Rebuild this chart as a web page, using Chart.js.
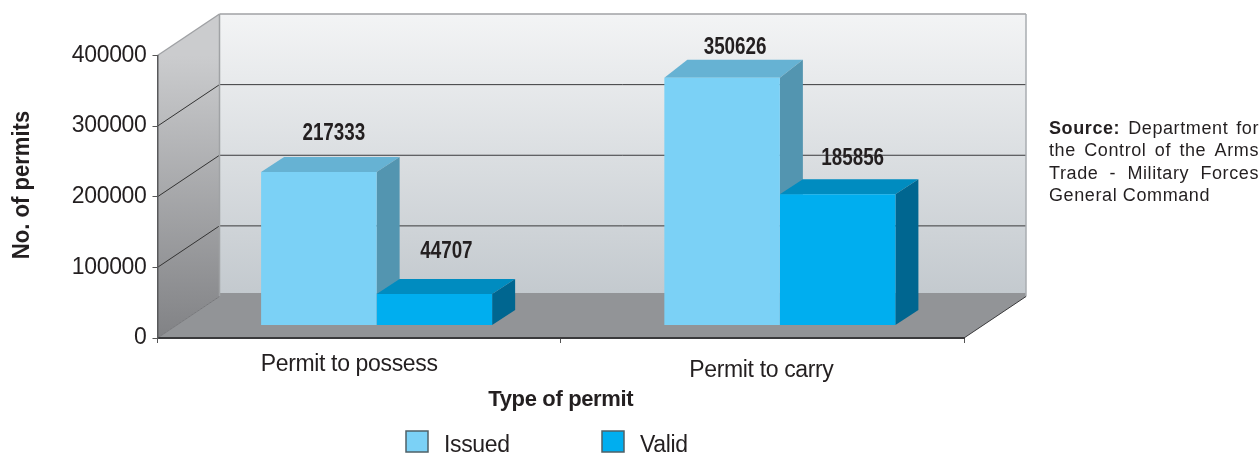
<!DOCTYPE html>
<html>
<head>
<meta charset="utf-8">
<style>
  html, body { margin: 0; background: #fff; }
  canvas { display: block; }
</style>
<script src="https://cdn.jsdelivr.net/npm/chart.js@4/dist/chart.umd.min.js"></script>
</head>
<body>
<canvas id="myChart" width="1260" height="454"></canvas>
<script>
const categories = ['Permit to possess', 'Permit to carry'];
const issued = [217333, 350626];
const valid = [44707, 185856];
const series_names = ['Issued', 'Valid'];
const y_ticks = [0, 100000, 200000, 300000, 400000];
const source_lines = ['Department for', 'the Control of the Arms', 'Trade - Military Forces', 'General Command'];

const SANS = '"Liberation Sans", sans-serif';
const TEXT = '#231f20';

// [front, top, side]
const shades = [
    ['#7bd1f6', '#66b2d3', '#5395b0'],
    ['#00aeef', '#008cc0', '#006690']
];

const wall = { dx: 62, dy: -41.5 };
const bar_offset = { dx: 17.5, dy: -12.5 };
const bar_dx = 23;
// depth is not the same on every bar in the original
const bar_dy = [[-15, -18], [-15, -15]];

// the reference puts these a bit off centre
const value_shift = [[[15, -38], [13, -30]], [[12, -42], [15, -36]]];
const tick_shift = [[-10, 1], [-1, 7]];

function poly(ctx, points, fill) {
    ctx.beginPath();
    points.forEach((p, i) => i ? ctx.lineTo(p[0], p[1]) : ctx.moveTo(p[0], p[1]));
    ctx.closePath();
    ctx.fillStyle = fill;
    ctx.fill();
}

function line(ctx, x1, y1, x2, y2, color, width) {
    ctx.beginPath();
    ctx.moveTo(x1, y1);
    ctx.lineTo(x2, y2);
    ctx.strokeStyle = color;
    ctx.lineWidth = width;
    ctx.stroke();
}

function words_line(ctx, words, x, y, right) {
    let total = 0;
    words.forEach(w => { ctx.font = w.font; total += ctx.measureText(w.text).width; });
    let gap = right ? (right - x - total) / (words.length - 1) : ctx.measureText(' ').width;
    words.forEach(w => {
        ctx.font = w.font;
        ctx.fillText(w.text, x, y);
        x += ctx.measureText(w.text).width + gap;
    });
}

// no narrow font here, so squeeze the bold labels sideways
function narrow_text(ctx, text, x, y, squeeze) {
    ctx.save();
    ctx.translate(x, y);
    ctx.scale(squeeze, 1);
    ctx.fillText(text, 0, 0);
    ctx.restore();
}

const box_plugin = {
    id: 'box3d',
    afterLayout(chart) {
        let scale = chart.scales.x;
        scale.getLabelItems(chart.chartArea).forEach((item, i) => {
            item.options.translation[0] += tick_shift[i][0];
            item.options.translation[1] += tick_shift[i][1];
        });
    },
    beforeDraw(chart) {
        let ctx = chart.ctx;
        let area = chart.chartArea;
        let y = chart.scales.y;
        let y0 = y.getPixelForValue(0);
        let yTop = y.getPixelForValue(400000);
        let bx = area.left + wall.dx;
        let rx = area.right + wall.dx;

        ctx.save();
        let back = ctx.createLinearGradient(0, yTop + wall.dy, 0, y0 + wall.dy);
        back.addColorStop(0, '#f3f4f5');
        back.addColorStop(1, '#c3c9ce');
        poly(ctx, [[bx, yTop + wall.dy], [rx, yTop + wall.dy], [rx, y0 + wall.dy], [bx, y0 + wall.dy]], back);

        let side = ctx.createLinearGradient(0, yTop, 0, y0);
        side.addColorStop(0, '#cbccce');
        side.addColorStop(1, '#818285');
        poly(ctx, [[area.left, yTop], [bx, yTop + wall.dy], [bx, y0 + wall.dy], [area.left, y0]], side);

        poly(ctx, [[area.left, y0], [bx, y0 + wall.dy], [bx, y0 + wall.dy - 3.5], [rx, y0 + wall.dy - 3.5],
            [rx, y0 + wall.dy], [area.right, y0]], '#929497');

        y_ticks.slice(1, -1).forEach(v => {
            let py = y.getPixelForValue(v);
            line(ctx, area.left, py, bx, py + wall.dy, '#333', 1);
            line(ctx, bx, py + wall.dy, rx, py + wall.dy, '#3a3a3c', 1);
        });

        line(ctx, area.left, yTop, bx, yTop + wall.dy, '#a0a2a5', 1.5);
        line(ctx, bx, yTop + wall.dy, rx, yTop + wall.dy, '#a0a2a5', 1.5);
        line(ctx, rx, yTop + wall.dy, rx, y0 + wall.dy, '#a9adb0', 1.5);
        line(ctx, bx, yTop + wall.dy, bx, y0 + wall.dy, '#a0a2a5', 1.5);
        line(ctx, area.left, y0, bx, y0 + wall.dy, '#77787b', 1);
        line(ctx, area.right, y0, rx, y0 + wall.dy, '#3a3a3c', 1);
        ctx.restore();

        // tighter letters for the axis numbers and labels
        ctx.letterSpacing = '-0.35px';
    },
    beforeDatasetsDraw(chart) {
        let ctx = chart.ctx;
        ctx.save();
        ctx.translate(bar_offset.dx, bar_offset.dy);
        chart.data.datasets.forEach((ds, d) => {
            chart.getDatasetMeta(d).data.forEach((bar, i) => {
                let left = bar.x - bar.width / 2;
                let right = bar.x + bar.width / 2;
                let dy = bar_dy[d][i];
                poly(ctx, [[left, bar.y], [left + bar_dx, bar.y + dy], [right + bar_dx, bar.y + dy], [right, bar.y]], shades[d][1]);
                poly(ctx, [[right, bar.y], [right + bar_dx, bar.y + dy], [right + bar_dx, bar.base + dy], [right, bar.base]], shades[d][2]);
            });
        });
    },
    afterDatasetsDraw(chart) {
        let ctx = chart.ctx;
        ctx.restore();

        ctx.save();
        ctx.letterSpacing = '0px';
        ctx.fillStyle = TEXT;
        ctx.textAlign = 'center';
        ctx.textBaseline = 'middle';
        ctx.font = 'bold 23px ' + SANS;
        chart.data.datasets.forEach((ds, d) => {
            chart.getDatasetMeta(d).data.forEach((bar, i) => {
                narrow_text(ctx, String(ds.data[i]),
                    bar.x + bar_offset.dx + value_shift[d][i][0],
                    bar.y + bar_offset.dy + value_shift[d][i][1], 0.82);
            });
        });
        ctx.restore();
    },
    afterDraw(chart) {
        let ctx = chart.ctx;
        ctx.save();
        ctx.fillStyle = TEXT;
        ctx.textBaseline = 'middle';

        // y title sits higher than the middle of the axis
        ctx.save();
        ctx.letterSpacing = '0px';
        ctx.translate(22.5, 185);
        ctx.rotate(-Math.PI / 2);
        ctx.textAlign = 'center';
        ctx.font = 'bold 23px ' + SANS;
        narrow_text(ctx, 'No. of permits', 0, 0, 0.96);
        ctx.restore();

        // legend
        let legend_x = [406, 602];
        series_names.forEach((name, i) => {
            ctx.fillStyle = chart.data.datasets[i].backgroundColor;
            ctx.strokeStyle = '#4f6067';
            ctx.lineWidth = 1.5;
            ctx.fillRect(legend_x[i], 431, 22, 21);
            ctx.strokeRect(legend_x[i], 431, 22, 21);
            ctx.fillStyle = TEXT;
            ctx.letterSpacing = '-0.35px';
            ctx.font = '23px ' + SANS;
            ctx.fillText(name, legend_x[i] + 38, 445.5);
        });

        // source note, justified like the original
        ctx.letterSpacing = '0.6px';
        let plain = '18px ' + SANS;
        let bold = 'bold 18px ' + SANS;
        let rows = [129, 151.5, 174, 196.5];
        source_lines.forEach((text, i) => {
            let words = text.split(' ').map(w => ({ text: w, font: plain }));
            if (i == 0) words.unshift({ text: 'Source:', font: bold });
            words_line(ctx, words, 1049, rows[i], i < 3 ? 1259 : 0);
        });
        ctx.restore();
    }
};

new Chart(document.getElementById('myChart'), {
    type: 'bar',
    data: {
        labels: categories,
        datasets: [
            { label: series_names[0], data: issued, backgroundColor: shades[0][0] },
            { label: series_names[1], data: valid, backgroundColor: shades[1][0] }
        ]
    },
    plugins: [box_plugin],
    options: {
        responsive: false,
        animation: false,
        layout: { autoPadding: false, padding: { top: 55.5, right: 296, left: 0, bottom: 0 } },
        categoryPercentage: 0.573,
        barPercentage: 1,
        plugins: { legend: { display: false }, tooltip: { enabled: false } },
        scales: {
            x: {
                afterFit(scale) { scale.height = 116; },
                border: { color: '#3a3a3c', width: 2 },
                grid: { drawOnChartArea: false, tickLength: 5, tickColor: '#555' },
                ticks: { color: TEXT, padding: 7, maxRotation: 0, font: { family: SANS, size: 23 } },
                title: {
                    display: true,
                    text: 'Type of permit',
                    color: TEXT,
                    font: { family: SANS, size: 22, weight: 'bold' },
                    padding: { top: 0, bottom: 41 }
                }
            },
            y: {
                min: 0,
                max: 400000,
                afterFit(scale) { scale.width = 157.5; },
                afterBuildTicks(scale) { scale.ticks = y_ticks.map(v => ({ value: v })); },
                border: { color: '#58595b', width: 1.5 },
                grid: { drawOnChartArea: false, tickLength: 5, tickColor: '#555' },
                ticks: {
                    color: TEXT,
                    padding: 6,
                    font: { family: SANS, size: 23 },
                    callback(value) { return String(value); }
                }
            }
        }
    }
});
</script>
</body>
</html>
